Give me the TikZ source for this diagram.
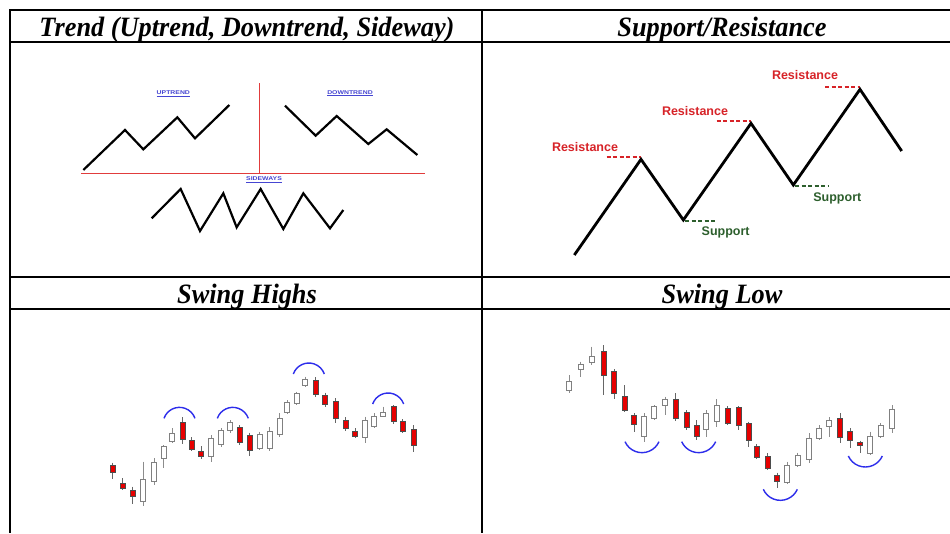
\documentclass[tikz,border=0pt]{standalone}
\usepackage{fontspec}
\setmainfont{Liberation Serif}
\newfontfamily\lsans{Liberation Sans}
\definecolor{resred}{RGB}{215,35,40}
\definecolor{supgreen}{RGB}{45,95,45}
\definecolor{trendred}{RGB}{225,60,60}
\definecolor{lblblue}{RGB}{70,70,210}
\definecolor{arcblue}{RGB}{45,45,235}
\definecolor{candred}{RGB}{230,0,0}
\tikzset{
  hdr/.style={anchor=base,inner sep=0pt,font=\fontsize{28}{30}\selectfont\bfseries\itshape,xscale=0.94},
  grid/.style={line width=2pt,black},
  trendline/.style={line width=2.2pt,black,line join=miter},
  zig/.style={line width=2.8pt,black,line join=miter},
  redline/.style={line width=1.4pt,trendred},
  tlabel/.style={inner sep=0pt,text=lblblue,font=\lsans\bfseries\fontsize{5.5}{6}\selectfont,xscale=1.25},
  resdash/.style={line width=1.8pt,resred,dash pattern=on 4pt off 2.5pt},
  supdash/.style={line width=1.8pt,supgreen,dash pattern=on 4pt off 2.5pt},
  reslbl/.style={inner sep=0pt,text=resred,font=\lsans\bfseries\fontsize{12.5}{13}\selectfont},
  suplbl/.style={inner sep=0pt,text=supgreen,font=\lsans\bfseries\fontsize{12.5}{13}\selectfont},
  wickw/.style={line width=0.9pt,black!45},
  bodyw/.style={line width=0.8pt,draw=black!50,fill=white},
  wickr/.style={line width=0.9pt,black!60},
  bodyr/.style={line width=0.6pt,draw=black!70,fill=candred},
  swingarc/.style={line width=1.4pt,arcblue},
}
% candle: x, wick top, body top, body bottom, wick bottom (display units)
\newcommand\candW[5]{\draw[wickw] (#1,#2) -- (#1,#5); \draw[bodyw] (#1-7.5,#3) rectangle (#1+7.5,#4);}
\newcommand\candR[5]{\draw[wickr] (#1,#2) -- (#1,#5); \draw[bodyr] (#1-7.5,#3) rectangle (#1+7.5,#4);}
\begin{document}
\begin{tikzpicture}[x=1pt,y=-1pt]
\useasboundingbox[fill=white] (0,0) rectangle (950,533);

% ---- table grid ----
\draw[grid] (10,10) -- (950,10);
\draw[grid] (10,42) -- (950,42);
\draw[grid] (10,277) -- (950,277);
\draw[grid] (10,309) -- (950,309);
\draw[grid] (10,9) -- (10,533);
\draw[grid] (482,9) -- (482,533);

% ---- headers ----
\node[hdr] (h1) at (247,36) {Trend (Uptrend, Downtrend, Sideway)};
\node[hdr] (h2) at (722,36) {Support/Resistance};
\node[hdr] (h3) at (247,303) {Swing Highs};
\node[hdr] (h4) at (722,303) {Swing Low};

% ---- panel 1: trend ----
\begin{scope}[shift={(10pt,-40pt)},x=0.33333pt,y=-0.33333pt]
  \draw[redline] (748,130) -- (748,400);
  \draw[redline] (213,400) -- (1245,400);
  \draw[trendline] (220,390) -- (345,270) -- (400,328) -- (502,232) -- (555,295) -- (658,195);
  \draw[trendline] (825,197) -- (917,287) -- (980,228) -- (1075,312) -- (1130,268) -- (1222,345);
  \draw[trendline] (425,535) -- (512,447) -- (570,573) -- (640,460) -- (680,562) -- (752,447) -- (820,567) -- (880,460) -- (960,565) -- (1000,510);
  \node[tlabel] (up) at (490,162) {\underline{UPTREND}};
  \node[tlabel] (down) at (1020,160) {\underline{DOWNTREND}};
  \node[tlabel] (side) at (762,420) {\underline{SIDEWAYS}};
\end{scope}

% ---- panel 2: support / resistance ----
\begin{scope}[shift={(480pt,-40pt)},x=0.33333pt,y=-0.33333pt]
  \draw[resdash] (380,350) -- (483,350);
  \draw[resdash] (710,243) -- (813,243);
  \draw[resdash] (1035,140) -- (1140,140);
  \draw[supdash] (615,543) -- (712,543);
  \draw[supdash] (945,438) -- (1045,438);
  \draw[zig] (283,645) -- (483,358) -- (610,540) -- (813,250) -- (940,435) -- (1140,148) -- (1265,333);
  \node[reslbl] (r1) at (315,320) {Resistance};
  \node[reslbl] (r2) at (645,212) {Resistance};
  \node[reslbl] (r3) at (975,105) {Resistance};
  \node[suplbl] (s1) at (737,578) {Support};
  \node[suplbl] (s2) at (1072,475) {Support};
\end{scope}

% ---- panel 3: swing highs ----
\begin{scope}[shift={(10pt,-300pt)},x=0.33333pt,y=-0.33333pt]
  \candR{308}{488}{497}{517}{537}
  \candR{338}{535}{550}{565}{570}
  \candR{368}{560}{572}{588}{612}
  \candW{400}{485}{537}{603}{618}
  \candW{432}{475}{487}{545}{555}
  \candW{461}{435}{440}{475}{505}
  \candW{487}{385}{400}{425}{430}
  \candR{517}{352}{367}{418}{432}
  \candR{545}{412}{420}{447}{452}
  \candR{573}{438}{455}{470}{478}
  \candW{603}{405}{415}{470}{485}
  \candW{633}{385}{392}{433}{440}
  \candW{661}{360}{368}{392}{400}
  \candR{689}{375}{383}{428}{435}
  \candR{718}{398}{405}{452}{468}
  \candW{749}{395}{402}{445}{450}
  \candW{779}{382}{395}{445}{452}
  \candW{809}{340}{355}{402}{410}
  \candW{832}{300}{308}{337}{342}
  \candW{860}{275}{280}{310}{315}
  \candW{886}{230}{238}{257}{262}
  \candR{916}{232}{240}{283}{290}
  \candR{945}{278}{285}{313}{320}
  \candR{977}{295}{305}{355}{370}
  \candR{1007}{352}{360}{385}{393}
  \candR{1035}{385}{393}{410}{415}
  \candW{1065}{350}{360}{412}{430}
  \candW{1093}{340}{350}{378}{385}
  \candW{1120}{320}{337}{348}{352}
  \candR{1150}{315}{320}{365}{372}
  \candR{1178}{357}{365}{395}{400}
  \candR{1210}{375}{387}{437}{455}
  \draw[swingarc] (462,355) arc[start angle=199.4,end angle=340.6,radius=49.3];
  \draw[swingarc] (622,355) arc[start angle=199.4,end angle=340.6,radius=49.3];
  \draw[swingarc] (850,222) arc[start angle=199.4,end angle=340.6,radius=49.3];
  \draw[swingarc] (1088,312) arc[start angle=199.4,end angle=340.6,radius=49.3];
\end{scope}

% ---- panel 4: swing low ----
\begin{scope}[shift={(480pt,-300pt)},x=0.33333pt,y=-0.33333pt]
  \candW{268}{225}{245}{270}{280}
  \candW{302}{185}{192}{207}{232}
  \candW{335}{140}{170}{187}{195}
  \candR{370}{135}{155}{227}{285}
  \candR{402}{208}{213}{280}{298}
  \candR{433}{255}{290}{330}{335}
  \candR{462}{340}{345}{372}{395}
  \candW{493}{340}{350}{410}{425}
  \candW{523}{315}{320}{355}{360}
  \candW{555}{290}{297}{315}{345}
  \candR{587}{280}{298}{355}{362}
  \candR{620}{330}{337}{382}{390}
  \candR{650}{360}{377}{410}{420}
  \candW{679}{330}{340}{387}{410}
  \candW{710}{298}{315}{365}{382}
  \candR{743}{318}{325}{370}{375}
  \candR{775}{318}{322}{377}{390}
  \candR{805}{365}{370}{420}{440}
  \candR{830}{432}{440}{472}{478}
  \candR{862}{460}{468}{505}{510}
  \candR{891}{518}{525}{545}{565}
  \candW{922}{485}{495}{548}{553}
  \candW{953}{458}{465}{495}{500}
  \candW{987}{400}{415}{478}{490}
  \candW{1018}{375}{385}{415}{420}
  \candW{1048}{352}{362}{378}{410}
  \candR{1080}{340}{355}{412}{430}
  \candR{1110}{385}{395}{420}{445}
  \candR{1140}{422}{427}{435}{460}
  \candW{1170}{395}{408}{460}{465}
  \candW{1202}{370}{375}{410}{415}
  \candW{1237}{315}{328}{385}{400}
  \draw[swingarc] (435,425) arc[start angle=155.8,end angle=24.2,radius=55.9];
  \draw[swingarc] (605,425) arc[start angle=155.8,end angle=24.2,radius=55.9];
  \draw[swingarc] (850,568) arc[start angle=155.8,end angle=24.2,radius=55.9];
  \draw[swingarc] (1105,468) arc[start angle=155.8,end angle=24.2,radius=55.9];
\end{scope}
\end{tikzpicture}
\end{document}
